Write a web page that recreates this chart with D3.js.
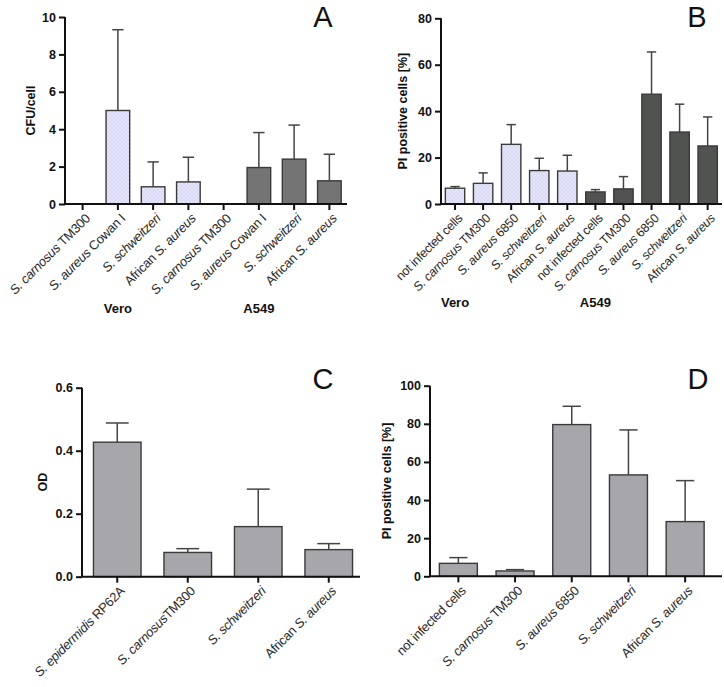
<!DOCTYPE html>
<html><head><meta charset="utf-8">
<script src="https://cdn.jsdelivr.net/npm/d3@7"></script>
<style>
body{margin:0;background:#fff;}
svg{display:block;font-family:"Liberation Sans",Arial,sans-serif;}
</style></head>
<body><svg id="c" width="724" height="687"></svg>
<script>
// ---------- DATA ----------
// Panel A: CFU/cell
const catsA = ["*S. carnosus* TM300","*S. aureus* Cowan I","*S. schweitzeri*","African *S. aureus*",
               "*S. carnosus* TM300","*S. aureus* Cowan I","*S. schweitzeri*","African *S. aureus*"];
const groupA = ["Vero","Vero","Vero","Vero","A549","A549","A549","A549"];
const valsA = [0, 5.0, 0.92, 1.18, 0, 1.95, 2.4, 1.24];
const errA  = [0, 9.32, 2.25, 2.5, 0, 3.82, 4.22, 2.66];
const ticksA = [0,2,4,6,8,10];

// Panel B: PI positive cells [%]
const catsB = ["not infected cells","*S. carnosus* TM300","*S. aureus* 6850","*S. schweitzeri*","African *S. aureus*",
               "not infected cells","*S. carnosus* TM300","*S. aureus* 6850","*S. schweitzeri*","African *S. aureus*"];
const groupB = ["Vero","Vero","Vero","Vero","Vero","A549","A549","A549","A549","A549"];
const valsB = [6.8, 8.9, 25.7, 14.4, 14.2, 5.2, 6.5, 47.3, 31.0, 25.0];
const errB  = [7.5, 13.4, 34.2, 19.7, 21.0, 6.2, 11.8, 65.5, 43.0, 37.5];
const ticksB = [0,20,40,60,80];

// Panel C: OD
const catsC = ["*S. epidermidis* RP62A","*S. carnosus*TM300","*S. schweitzeri*","African *S. aureus*"];
const valsC = [0.427, 0.077, 0.159, 0.086];
const errC  = [0.488, 0.089, 0.278, 0.105];
const ticksC = [0,0.2,0.4,0.6];

// Panel D: PI positive cells [%]
const catsD = ["not infected cells","*S. carnosus* TM300","*S. aureus* 6850","*S. schweitzeri*","African *S. aureus*"];
const valsD = [6.8, 2.8, 79.6, 53.2, 28.7];
const errD  = [9.8, 3.5, 89.2, 76.8, 50.2];
const ticksD = [0,20,40,60,80,100];

// ---------- DRAWING ----------
const svg = d3.select("#c");
const defs = svg.append("defs");
const pat = defs.append("pattern").attr("id","hatch").attr("patternUnits","userSpaceOnUse")
  .attr("width",4).attr("height",4);
pat.append("rect").attr("width",4).attr("height",4).attr("fill","#e6e6fa");
pat.append("path").attr("d","M0,0L4,4M4,0L0,4").attr("stroke","#d6d6f4").attr("stroke-width",0.8);

function richText(sel, label){
  const parts = label.split("*");
  parts.forEach((p,i)=>{
    if(!p) return;
    sel.append("tspan").attr("font-style", i%2===1 ? "italic" : "normal").text(p);
  });
}

function panel(o){
  const g = svg.append("g");
  const y = d3.scaleLinear().domain(o.yDomain).range([o.y0, o.y1]);
  const x = d3.scaleBand().domain(d3.range(o.cats.length)).range(o.xRange)
    .paddingInner(o.pad).paddingOuter(o.pad/2);

  // bars
  g.selectAll("rect.bar").data(o.vals).join("rect").attr("class","bar")
    .attr("x",(d,i)=>x(i)).attr("width",x.bandwidth())
    .attr("y",d=>y(d)).attr("height",d=>Math.max(0,y(0)-y(d)))
    .attr("fill",(d,i)=>o.fill(i)).attr("stroke","#3a3a3a").attr("stroke-width",1.4)
    .attr("display",d=>d>0?null:"none");

  // error bars (upper only)
  const cw = x.bandwidth()*0.48;
  o.vals.forEach((v,i)=>{
    if(v<=0) return;
    const cx = x(i)+x.bandwidth()/2;
    g.append("line").attr("x1",cx).attr("x2",cx).attr("y1",y(v)).attr("y2",y(o.errs[i]))
      .attr("stroke","#444").attr("stroke-width",1.5);
    g.append("line").attr("x1",cx-cw/2).attr("x2",cx+cw/2).attr("y1",y(o.errs[i])).attr("y2",y(o.errs[i]))
      .attr("stroke","#444").attr("stroke-width",1.5);
  });

  // y axis
  const ya = g.append("g").attr("transform",`translate(${o.xRange[0]},0)`)
    .call(d3.axisLeft(y).tickValues(o.ticks).tickSize(6).tickPadding(3).tickFormat(o.fmt));
  ya.select(".domain").attr("stroke","#111").attr("stroke-width",2).attr("d",`M0,${y(0)}V${y(o.yDomain[1])}`);
  ya.selectAll(".tick line").attr("stroke","#111").attr("stroke-width",2);
  ya.selectAll(".tick text").attr("font-size",12.5).attr("font-weight","bold").attr("fill","#111")
    .attr("font-family","'Liberation Sans',Arial,sans-serif");

  // x axis
  const xa = g.append("g").attr("transform",`translate(0,${y(0)})`)
    .call(d3.axisBottom(x).tickSize(6).tickFormat(""));
  xa.select(".domain").attr("stroke","#111").attr("stroke-width",2)
    .attr("d",`M${o.xRange[0]},0H${o.xEnd}`);
  xa.selectAll(".tick line").attr("stroke","#111").attr("stroke-width",2);

  // category labels
  o.cats.forEach((c,i)=>{
    const cx = x(i)+x.bandwidth()/2;
    const t = g.append("text").attr("transform",`translate(${cx+5},${y(0)+12}) rotate(-45)`)
      .attr("text-anchor","end").attr("font-size",o.catSize).attr("fill","#2a2a2a")
      .attr("dy","0.35em").attr("letter-spacing","-0.3");
    richText(t,c);
  });

  // group labels
  if(o.groups){
    const seen = {};
    o.groups.forEach((gname,i)=>{
      if(seen[gname]) return; seen[gname]=true;
      const idx = i + o.groupOffset;
      g.append("text").attr("x",x(idx)+x.bandwidth()/2).attr("y",o.groupY)
        .attr("text-anchor","middle").attr("font-size",13).attr("font-weight","bold")
        .attr("fill","#111").text(gname);
    });
  }

  // y label
  g.append("text").attr("transform",`translate(${o.yLabX},${(o.y0+o.y1)/2}) rotate(-90)`)
    .attr("text-anchor","middle").attr("font-size",12.5).attr("font-weight","bold").attr("fill","#111")
    .text(o.yLabel);

  // panel letter
  g.append("text").attr("x",o.letterX).attr("y",o.letterY).attr("text-anchor","middle")
    .attr("font-size",29).attr("fill","#111").attr("font-family","'Liberation Sans',Arial,sans-serif")
    .text(o.letter);
}

panel({cats:catsA, vals:valsA, errs:errA, ticks:ticksA, yDomain:[0,10], y0:204, y1:17,
  xRange:[65,347], xEnd:347, pad:0.33,
  fill:i=>groupA[i]==="Vero" ? "url(#hatch)" : "#747474",
  fmt:d3.format("d"), catSize:13, groups:groupA, groupOffset:1, groupY:313,
  yLabel:"CFU/cell", yLabX:35, letter:"A", letterX:323, letterY:27});

panel({cats:catsB, vals:valsB, errs:errB, ticks:ticksB, yDomain:[0,80], y0:204, y1:18.3,
  xRange:[441,721.7], xEnd:722, pad:0.31,
  fill:i=>groupB[i]==="Vero" ? "url(#hatch)" : "#50534f",
  fmt:d3.format("d"), catSize:12.5, groups:groupB, groupOffset:0, groupY:307,
  yLabel:"PI positive cells [%]", yLabX:407, letter:"B", letterX:697, letterY:27});

panel({cats:catsC, vals:valsC, errs:errC, ticks:ticksC, yDomain:[0,0.6], y0:576.7, y1:387.7,
  xRange:[82,364], xEnd:360, pad:0.325,
  fill:()=>"#a6a6ab",
  fmt:d3.format(".1f"), catSize:13,
  yLabel:"OD", yLabX:47, letter:"C", letterX:323, letterY:389});

panel({cats:catsD, vals:valsD, errs:errD, ticks:ticksD, yDomain:[0,100], y0:576.3, y1:385.7,
  xRange:[430,713.5], xEnd:722, pad:0.33,
  fill:()=>"#a6a6ab",
  fmt:d3.format("d"), catSize:13,
  yLabel:"PI positive cells [%]", yLabX:391, letter:"D", letterX:698, letterY:389});
</script></body></html>
